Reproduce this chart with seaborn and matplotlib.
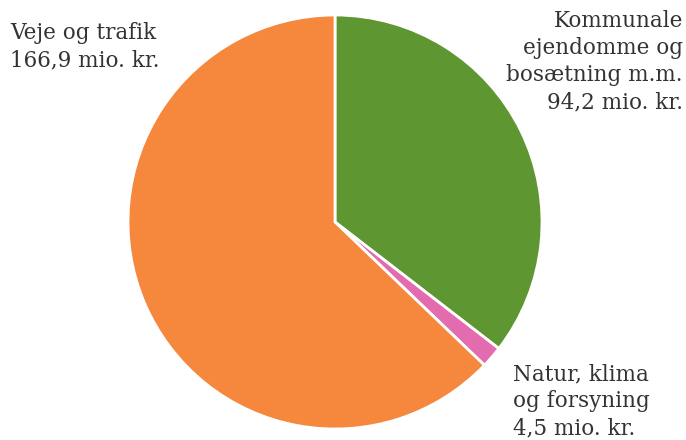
import matplotlib.pyplot as plt
import seaborn as sns

# Data
categories = ["Kommunale\nejendomme og\nbosætning m.m.", "Natur, klima\nog forsyning", "Veje og trafik"]
values = [94.2, 4.5, 166.9]
value_labels = ["94,2 mio. kr.", "4,5 mio. kr.", "166,9 mio. kr."]
colors = ["#5e9632", "#e36cae", "#f5883d"]

sns.set_theme(style="white")
plt.rcParams["font.family"] = ["DejaVu Serif"]

fig = plt.figure(figsize=(6.86, 4.4), dpi=100)
ax = fig.add_axes([(335 - 207) / 686, (440 - 429) / 440, 414 / 686, 414 / 440])
ax.pie(
    values,
    colors=sns.color_palette(colors),
    startangle=90,
    counterclock=False,
    wedgeprops={"edgecolor": "white", "linewidth": 2},
    radius=1,
)
ax.set_xlim(-1, 1)
ax.set_ylim(-1, 1)
ax.set_axis_off()

txt = dict(fontsize=15.5, color="#333333", linespacing=1.3, va="top")

fig.text(10 / 686, 1 - 22 / 440, categories[2].replace("\n", " ") + "\n" + value_labels[2], ha="left", **txt)
fig.text(683 / 686, 1 - 10 / 440, categories[0] + "\n" + value_labels[0], ha="right", multialignment="right", **txt)
fig.text(513 / 686, 1 - 363 / 440, categories[1] + "\n" + value_labels[1], ha="left", **txt)

fig.savefig("out.png", dpi=100)
